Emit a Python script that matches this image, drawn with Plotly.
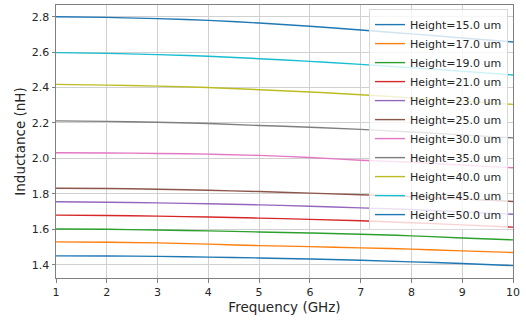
import plotly.graph_objects as go

freq = [1, 2, 3, 4, 5, 6, 7, 8, 9, 10]
heights = [15.0, 17.0, 19.0, 21.0, 23.0, 25.0, 30.0, 35.0, 40.0, 45.0, 50.0]
h15 = [1.450, 1.449, 1.447, 1.443, 1.438, 1.432, 1.425, 1.416, 1.407, 1.395]
h17 = [1.529, 1.527, 1.523, 1.516, 1.508, 1.502, 1.495, 1.488, 1.478, 1.469]
h19 = [1.602, 1.600, 1.596, 1.591, 1.585, 1.579, 1.572, 1.563, 1.551, 1.540]
h21 = [1.680, 1.678, 1.674, 1.669, 1.663, 1.656, 1.648, 1.637, 1.625, 1.612]
h23 = [1.755, 1.753, 1.749, 1.744, 1.738, 1.730, 1.721, 1.712, 1.698, 1.685]
h25 = [1.832, 1.830, 1.826, 1.820, 1.813, 1.804, 1.795, 1.784, 1.771, 1.757]
h30 = [2.032, 2.031, 2.028, 2.024, 2.017, 2.005, 1.990, 1.978, 1.963, 1.947]
h35 = [2.212, 2.209, 2.204, 2.197, 2.186, 2.176, 2.164, 2.149, 2.133, 2.116]
h40 = [2.418, 2.414, 2.408, 2.400, 2.388, 2.375, 2.359, 2.342, 2.324, 2.305]
h45 = [2.597, 2.593, 2.586, 2.577, 2.563, 2.548, 2.531, 2.512, 2.492, 2.471]
h50 = [2.800, 2.796, 2.789, 2.779, 2.764, 2.746, 2.725, 2.703, 2.680, 2.657]
series = [h15, h17, h19, h21, h23, h25, h30, h35, h40, h45, h50]
colors = ["#1f77b4", "#ff7f0e", "#2ca02c", "#d62728", "#9467bd", "#8c564b",
          "#e377c2", "#7f7f7f", "#bcbd22", "#17becf", "#1f77b4"]

fig = go.Figure()
for h, vals, c in zip(heights, series, colors):
    fig.add_trace(go.Scatter(x=freq, y=vals, mode="lines", name=f"Height={h:.1f} um",
                             line=dict(color=c, width=1.4, shape="spline")))

font = "DejaVu Sans"
axis_common = dict(showgrid=True, gridcolor="#d0d0d0", gridwidth=1,
                   showline=True, linecolor="#808080", linewidth=1, mirror=True,
                   ticks="outside", ticklen=3.5, tickcolor="#808080",
                   tickfont=dict(family=font, size=11, color="#262626"),
                   zeroline=False)
fig.update_layout(
    width=526, height=320,
    margin=dict(l=56, r=13, t=5, b=42),
    paper_bgcolor="white", plot_bgcolor="white",
    font=dict(family=font, color="#262626"),
    xaxis=dict(range=[1, 10], tickvals=freq,
               title=dict(text="Frequency (GHz)", font=dict(family=font, size=13.5), standoff=3),
               **axis_common),
    yaxis=dict(range=[1.325, 2.866], tickvals=[1.4, 1.6, 1.8, 2.0, 2.2, 2.4, 2.6, 2.8],
               tickformat=".1f",
               title=dict(text="Inductance (nH)", font=dict(family=font, size=13.5), standoff=3),
               **axis_common),
    legend=dict(x=0.989, y=0.985, xanchor="right", yanchor="top",
                bgcolor="rgba(255,255,255,0.8)", bordercolor="#d8d8d8", borderwidth=1,
                font=dict(family=font, size=11, color="#262626"),
                tracegroupgap=0, itemwidth=30),
    showlegend=True,
)
fig.write_html("out.html", config={"displayModeBar": False},
               post_script="document.body.style.margin='0';")
